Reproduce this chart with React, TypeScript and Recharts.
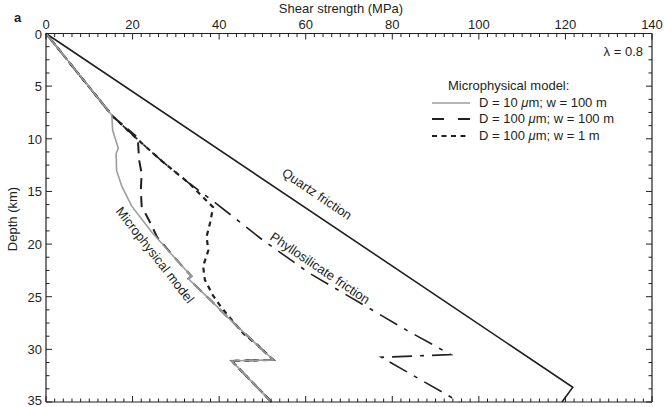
import React from "react";
import { LineChart, Line, XAxis, YAxis, Legend } from "recharts";

const INK = "#231f20";
const GREY = "#9d9d9d";
const FONT = "'Liberation Sans', Arial, Helvetica, sans-serif";

// axis ticks
const shearLabels = [0, 20, 40, 60, 80, 100, 120, 140];
const shearTicks = [
  0, 2, 4, 6, 8, 10, 12, 14, 16, 18, 20, 22, 24, 26, 28, 30, 32, 34, 36, 38, 40,
  42, 44, 46, 48, 50, 52, 54, 56, 58, 60, 62, 64, 66, 68, 70, 72, 74, 76, 78, 80,
  82, 84, 86, 88, 90, 92, 94, 96, 98, 100, 102, 104, 106, 108, 110, 112, 114, 116,
  118, 120, 122, 124, 126, 128, 130, 132, 134, 136, 138, 140,
];
const depthLabels = [0, 5, 10, 15, 20, 25, 30, 35];
const depthTicks = [
  0, 1.25, 2.5, 3.75, 5, 6.25, 7.5, 8.75, 10, 11.25, 12.5, 13.75, 15, 16.25, 17.5,
  18.75, 20, 21.25, 22.5, 23.75, 25, 26.25, 27.5, 28.75, 30, 31.25, 32.5, 33.75, 35,
];

// s = shear strength (MPa), d = depth (km)
const quartz = [
  { s: 0, d: 0 },
  { s: 121.7, d: 33.6 },
  { s: 119.2, d: 35 },
];

const phyllosilicate = [
  { s: 0, d: 0 },
  { s: 15.5, d: 7.9 },
  { s: 21, d: 10 },
  { s: 27, d: 12.2 },
  { s: 33, d: 14.2 },
  { s: 39.5, d: 16.2 },
  { s: 50, d: 19.6 },
  { s: 61, d: 22.8 },
  { s: 72.6, d: 25.6 },
  { s: 83.4, d: 28.2 },
  { s: 93.5, d: 30.5 },
  { s: 77.5, d: 30.75 },
  { s: 95.5, d: 35 },
];

const micro10w100 = [
  { s: 0, d: 0 },
  { s: 15.2, d: 7.75 },
  { s: 15.4, d: 9.2 },
  { s: 16.7, d: 10.9 },
  { s: 16.2, d: 11.4 },
  { s: 16.3, d: 13 },
  { s: 17.5, d: 14.5 },
  { s: 19.8, d: 16.4 },
  { s: 24.5, d: 18.9 },
  { s: 29.5, d: 21.2 },
  { s: 33.6, d: 23.05 },
  { s: 32.9, d: 23.3 },
  { s: 37.7, d: 25.2 },
  { s: 42.6, d: 27.2 },
  { s: 47, d: 28.9 },
  { s: 52.5, d: 31 },
  { s: 42.9, d: 31.1 },
  { s: 52.1, d: 35 },
];

const micro100w100 = [
  { s: 0, d: 0 },
  { s: 15.5, d: 7.9 },
  { s: 21.2, d: 9.9 },
  { s: 21.5, d: 12 },
  { s: 22.1, d: 13.3 },
  { s: 21.9, d: 14.9 },
  { s: 22.1, d: 16.4 },
  { s: 24.5, d: 18.3 },
  { s: 25.6, d: 19.3 },
  { s: 29.5, d: 21.2 },
  { s: 33.6, d: 23.05 },
  { s: 32.9, d: 23.3 },
  { s: 37.7, d: 25.2 },
  { s: 42.6, d: 27.2 },
  { s: 47, d: 28.9 },
  { s: 52.5, d: 31 },
  { s: 42.9, d: 31.1 },
  { s: 52.1, d: 35 },
];

const micro100w1 = [
  { s: 0, d: 0 },
  { s: 15.5, d: 7.9 },
  { s: 21, d: 10 },
  { s: 27, d: 12.2 },
  { s: 33, d: 14.2 },
  { s: 38.6, d: 16.5 },
  { s: 37.9, d: 18 },
  { s: 37.1, d: 19.3 },
  { s: 37.5, d: 20.6 },
  { s: 36.3, d: 22.1 },
  { s: 36.7, d: 23.4 },
  { s: 38.6, d: 24.9 },
  { s: 40.3, d: 25.9 },
  { s: 42.9, d: 27.2 },
  { s: 45.6, d: 28.5 },
  { s: 48.9, d: 29.6 },
  { s: 52.5, d: 31 },
  { s: 42.9, d: 31.1 },
  { s: 52.1, d: 35 },
];

const legendTitle = "Microphysical model:";
const legendRows = [
  { name: "D = 10 μm; w = 100 m", color: GREY, width: 1.6, dash: undefined },
  { name: "D = 100 μm; w = 100 m", color: INK, width: 2, dash: "12 14" },
  { name: "D = 100 μm; w = 1 m", color: INK, width: 2.2, dash: "5 4.5" },
];

const MAJOR = 6;
const MINOR = 3.5;

function TopTick({ x, y, payload }: any) {
  const major = shearLabels.includes(payload.value);
  return (
    <g>
      <line x1={x} x2={x} y1={y} y2={y + (major ? MAJOR : MINOR)} stroke={INK} />
      {major && (
        <text x={x} y={y - 5} textAnchor="middle" fontSize={13} fontFamily={FONT} fill={INK}>
          {payload.value}
        </text>
      )}
    </g>
  );
}

function BottomTick({ x, y, payload }: any) {
  const major = shearLabels.includes(payload.value);
  return <line x1={x} x2={x} y1={y} y2={y - (major ? MAJOR : MINOR)} stroke={INK} />;
}

function LeftTick({ x, y, payload }: any) {
  const major = depthLabels.includes(payload.value);
  // the last label sits on the bottom edge; keep it inside the picture
  const dy = payload.value === 35 ? 3 : 5;
  return (
    <g>
      <line x1={x} x2={x + (major ? MAJOR : MINOR)} y1={y} y2={y} stroke={INK} />
      {major && (
        <text x={x - 4} y={y + dy} textAnchor="end" fontSize={13} fontFamily={FONT} fill={INK}>
          {payload.value}
        </text>
      )}
    </g>
  );
}

function RightTick({ x, y, payload }: any) {
  const major = depthLabels.includes(payload.value);
  return <line x1={x} x2={x - (major ? MAJOR : MINOR)} y1={y} y2={y} stroke={INK} />;
}

function withMu(text: string) {
  const parts = text.split("μ");
  return parts.map((p, i) => (
    <React.Fragment key={i}>
      {i > 0 && <i>μ</i>}
      {p}
    </React.Fragment>
  ));
}

function MicroLegend() {
  return (
    <div style={{ font: `13px ${FONT}`, color: INK, lineHeight: "16.5px" }}>
      <div style={{ paddingLeft: 16 }}>{legendTitle}</div>
      {legendRows.map((r) => (
        <div key={r.name} style={{ display: "flex", alignItems: "center", height: 16.5 }}>
          <svg width={38} height={6}>
            <line x1={0} x2={38} y1={3} y2={3} stroke={r.color} strokeWidth={r.width} strokeDasharray={r.dash} />
          </svg>
          <span style={{ marginLeft: 9 }}>{withMu(r.name)}</span>
        </div>
      ))}
    </div>
  );
}

const textStyle = { fontSize: 13, fontFamily: FONT, fill: INK };

export default function App() {
  return (
    <div style={{ position: "absolute", left: 0, top: 0 }}>
      <LineChart width={664} height={407} margin={{ top: 3, right: 11, bottom: 4, left: 6 }}>
        <XAxis
          xAxisId="top"
          orientation="top"
          type="number"
          dataKey="s"
          domain={[0, 140]}
          ticks={shearTicks}
          interval={0}
          height={30.5}
          tickSize={0}
          tickMargin={0}
          tickLine={false}
          axisLine={{ stroke: INK, strokeWidth: 1.2 }}
          tick={<TopTick />}
        />
        <XAxis
          xAxisId="bottom"
          orientation="bottom"
          type="number"
          dataKey="s"
          domain={[0, 140]}
          ticks={shearTicks}
          interval={0}
          height={1}
          tickSize={0}
          tickMargin={0}
          tickLine={false}
          axisLine={{ stroke: INK, strokeWidth: 1.2 }}
          tick={<BottomTick />}
        />
        <YAxis
          yAxisId="left"
          orientation="left"
          type="number"
          reversed
          domain={[0, 35]}
          ticks={depthTicks}
          interval={0}
          width={40}
          tickSize={0}
          tickMargin={0}
          tickLine={false}
          axisLine={{ stroke: INK, strokeWidth: 1.2 }}
          tick={<LeftTick />}
        />
        <YAxis
          yAxisId="right"
          orientation="right"
          type="number"
          reversed
          domain={[0, 35]}
          ticks={depthTicks}
          interval={0}
          width={1}
          tickSize={0}
          tickMargin={0}
          tickLine={false}
          axisLine={{ stroke: INK, strokeWidth: 1.2 }}
          tick={<RightTick />}
        />
        <Legend
          layout="horizontal"
          verticalAlign="middle"
          align="center"
          wrapperStyle={{ left: 432, top: 78, width: 230 }}
          content={<MicroLegend />}
        />
        <Line xAxisId="bottom" yAxisId="right" data={quartz} dataKey="d" name="Quartz friction" stroke={INK} strokeWidth={1.6} dot={false} isAnimationActive={false} legendType="none" />
        <Line xAxisId="top" yAxisId="left" data={phyllosilicate} dataKey="d" name="Phyllosilicate friction" stroke={INK} strokeWidth={1.6} strokeDasharray="20 8 4 8" dot={false} isAnimationActive={false} legendType="none" />
        <Line xAxisId="top" yAxisId="left" data={micro100w100} dataKey="d" name={legendRows[1].name} stroke={INK} strokeWidth={2} strokeDasharray="11 7" dot={false} isAnimationActive={false} />
        <Line xAxisId="top" yAxisId="left" data={micro100w1} dataKey="d" name={legendRows[2].name} stroke={INK} strokeWidth={2.2} strokeDasharray="5 4.5" dot={false} isAnimationActive={false} />
        <Line xAxisId="top" yAxisId="left" data={micro10w100} dataKey="d" name={legendRows[0].name} stroke={GREY} strokeWidth={1.6} dot={false} isAnimationActive={false} />

        <text x={14} y={21.5} style={{ ...textStyle, fontWeight: "bold" }}>a</text>
        <text x={341} y={13} textAnchor="middle" style={textStyle}>Shear strength (MPa)</text>
        <text x={643} y={56} textAnchor="end" style={textStyle}>λ = 0.8</text>
        <text x={12} y={219} textAnchor="middle" dominantBaseline="central" transform="rotate(-90 12 219)" style={textStyle}>
          Depth (km)
        </text>
        <text x={317} y={194} textAnchor="middle" dominantBaseline="central" transform="rotate(34 317 194)" style={textStyle}>
          Quartz friction
        </text>
        <text x={320} y={268} textAnchor="middle" dominantBaseline="central" transform="rotate(34 320 268)" style={textStyle}>
          Phyllosilicate friction
        </text>
        <text x={155} y={255} textAnchor="middle" dominantBaseline="central" transform="rotate(52 155 255)" style={textStyle}>
          Microphysical model
        </text>
      </LineChart>
    </div>
  );
}
